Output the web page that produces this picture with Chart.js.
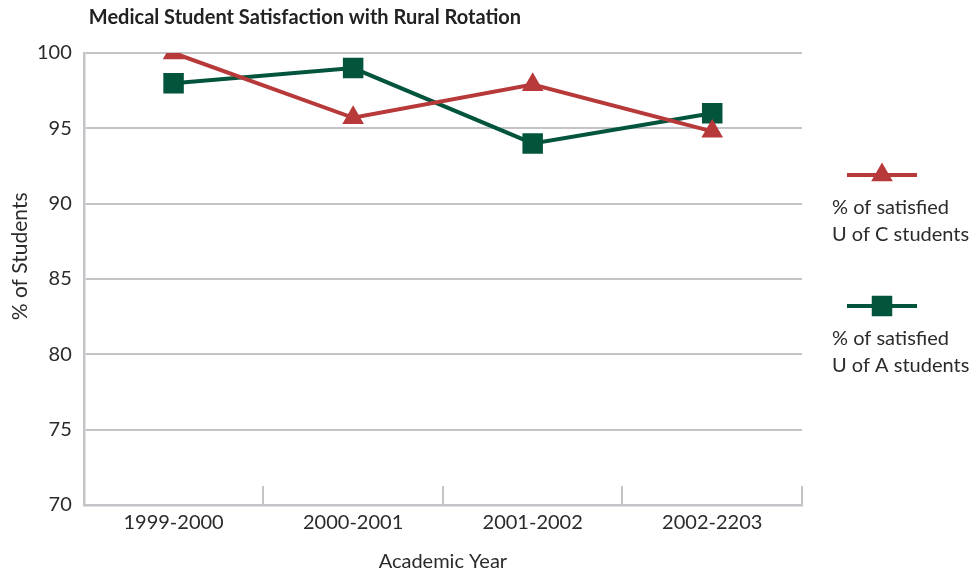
<!DOCTYPE html>
<html>
<head>
<meta charset="utf-8">
<script src="https://cdn.jsdelivr.net/npm/chart.js@4/dist/chart.umd.min.js"></script>
<style>
  html, body { margin: 0; padding: 0; background: #fff; }
  #wrap { width: 980px; height: 571px; position: relative; }
</style>
</head>
<body>
<div id="wrap"><canvas id="c"></canvas></div>
<script>
// Academic years and satisfaction percentages
const years = ['1999-2000', '2000-2001', '2001-2002', '2002-2203'];
const uOfC = [100, 95.7, 97.9, 94.8];
const uOfA = [98, 99, 94, 96];
const yMin = 70, yMax = 100, yStep = 5;

const chartTitle = 'Medical Student Satisfaction with Rural Rotation';
const yTitle = '% of Students';
const xTitle = 'Academic Year';
const seriesLabels = [
  ['% of satisfied', 'U of C students'],
  ['% of satisfied', 'U of A students']
];

const RED = '#b7393a';
const GREEN = '#02553c';
const GRID = '#c4c4c8';
const TEXT = '#2b2b2b';
const FONT = 'Lato, "Open Sans", sans-serif';

// Title, axis captions, side legend and short inner tick marks along the category axis
const decorations = {
  id: 'decorations',
  afterDraw(chart) {
    const ctx = chart.ctx;
    const area = chart.chartArea;
    const xs = chart.scales.x;

    // inner tick marks between categories
    ctx.save();
    ctx.strokeStyle = GRID;
    ctx.lineWidth = 2;
    const n = years.length;
    for (let i = 1; i <= n; i++) {
      const x = Math.round(xs.left + (xs.right - xs.left) * i / n);
      ctx.beginPath();
      ctx.moveTo(x, area.bottom);
      ctx.lineTo(x, area.bottom - 19);
      ctx.stroke();
    }
    ctx.restore();

    // chart title
    ctx.save();
    ctx.fillStyle = '#222';
    ctx.font = 'bold 20px ' + FONT;
    ctx.textBaseline = 'middle';
    ctx.textAlign = 'left';
    ctx.fillText(chartTitle, area.left + 5, 18);
    ctx.restore();

    // y-axis caption
    ctx.save();
    ctx.fillStyle = TEXT;
    ctx.font = '21px ' + FONT;
    ctx.textAlign = 'center';
    ctx.textBaseline = 'middle';
    ctx.translate(20, area.top + (area.bottom - area.top) * 0.45);
    ctx.rotate(-Math.PI / 2);
    ctx.fillText(yTitle, 0, 0);
    ctx.restore();

    // x-axis caption
    ctx.save();
    ctx.fillStyle = TEXT;
    ctx.font = '20px ' + FONT;
    ctx.textAlign = 'center';
    ctx.textBaseline = 'middle';
    ctx.fillText(xTitle, (area.left + area.right) / 2, area.bottom + 57);
    ctx.restore();

    // legend to the right of the plot
    const legendTops = [175, 306];
    chart.data.datasets.forEach((ds, i) => {
      const y = legendTops[i];
      const x0 = area.right + 45, x1 = area.right + 115;
      ctx.save();
      ctx.strokeStyle = ds.borderColor;
      ctx.lineWidth = ds.borderWidth;
      ctx.beginPath();
      ctx.moveTo(x0, y);
      ctx.lineTo(x1, y);
      ctx.stroke();
      ctx.fillStyle = ds.pointBackgroundColor;
      ctx.strokeStyle = ds.pointBackgroundColor;
      ctx.lineWidth = 0.01;
      Chart.helpers.drawPoint(ctx, {
        pointStyle: ds.pointStyle,
        radius: ds.pointRadius,
        rotation: 0,
        borderWidth: 0
      }, (x0 + x1) / 2, y);
      ctx.fillStyle = TEXT;
      ctx.font = '20px ' + FONT;
      ctx.textAlign = 'left';
      ctx.textBaseline = 'middle';
      seriesLabels[i].forEach((t, k) => {
        ctx.fillText(t, area.right + 30, y + 33 + k * 27);
      });
      ctx.restore();
    });
  }
};

new Chart(document.getElementById('c'), {
  type: 'line',
  data: {
    labels: years,
    datasets: [
      {
        label: seriesLabels[0].join(' '),
        data: uOfC,
        borderColor: RED,
        backgroundColor: RED,
        pointBackgroundColor: RED,
        pointBorderColor: RED,
        pointBorderWidth: 0,
        borderWidth: 4,
        pointStyle: 'triangle',
        pointRadius: 12.5,
        pointHoverRadius: 12.5,
        tension: 0,
        fill: false
      },
      {
        label: seriesLabels[1].join(' '),
        data: uOfA,
        borderColor: GREEN,
        backgroundColor: GREEN,
        pointBackgroundColor: GREEN,
        pointBorderColor: GREEN,
        pointBorderWidth: 0,
        borderWidth: 4,
        pointStyle: 'rect',
        pointRadius: 14.5,
        pointHoverRadius: 14.5,
        tension: 0,
        fill: false
      }
    ]
  },
  options: {
    responsive: true,
    maintainAspectRatio: false,
    animation: false,
    layout: { padding: { top: 53, right: 178, left: 25, bottom: 30 } },
    plugins: {
      legend: { display: false },
      title: { display: false },
      tooltip: { enabled: false }
    },
    scales: {
      x: {
        offset: true,
        grid: { display: true, drawOnChartArea: false, drawTicks: false, color: GRID, lineWidth: 2 },
        border: { display: true, color: GRID, width: 2.5 },
        ticks: { color: TEXT, font: { family: FONT, size: 20 }, padding: 6 },
        title: { display: false }
      },
      y: {
        min: yMin,
        max: yMax,
        ticks: { stepSize: yStep, color: TEXT, font: { family: FONT, size: 20 }, padding: 12 },
        grid: { color: GRID, lineWidth: 2, drawTicks: false },
        border: { display: true, color: GRID, width: 2.5 },
        title: { display: false }
      }
    }
  },
  plugins: [decorations]
});
</script>
</body>
</html>
